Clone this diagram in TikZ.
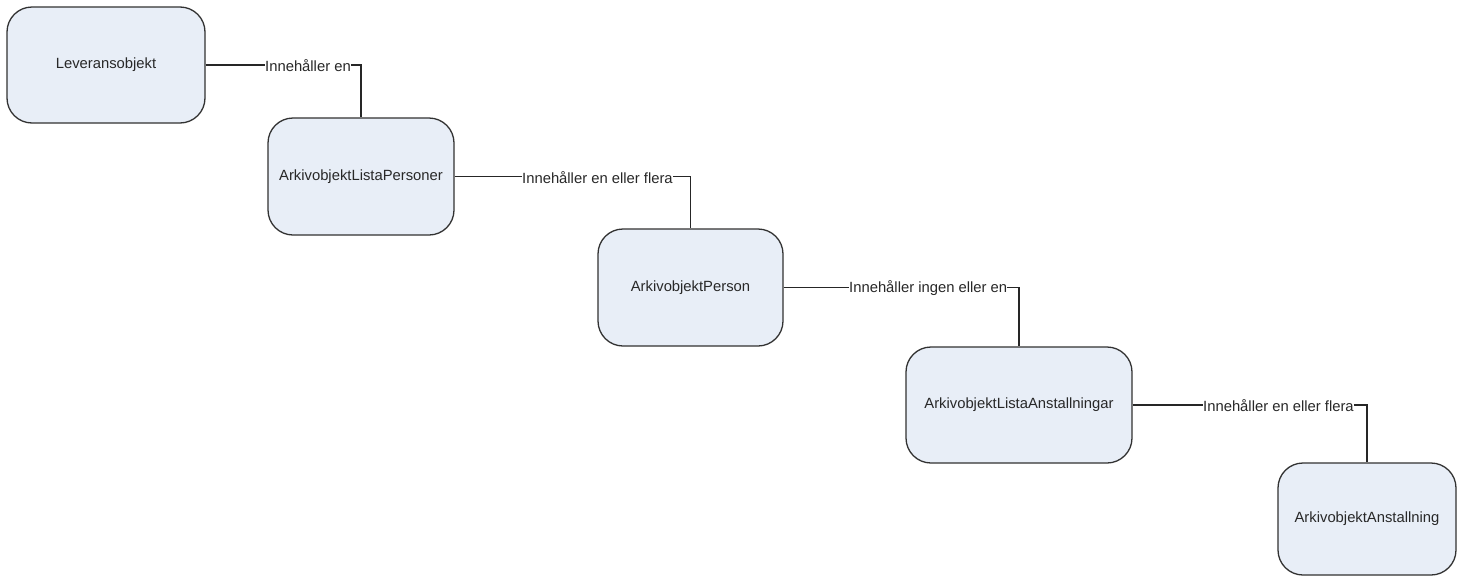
\documentclass[tikz,border=0pt]{standalone}
\usepackage{fontspec}
\setmainfont{Liberation Sans}
\definecolor{boxfill}{RGB}{232,238,247}
\definecolor{boxline}{RGB}{50,50,50}
\definecolor{labeltext}{RGB}{40,40,40}
\begin{document}
\begin{tikzpicture}[x=1pt,y=-1pt,
  entity/.style={draw=boxline, fill=boxfill, line width=1.3pt, rounded corners=25pt,
    inner sep=0pt, text=labeltext, font=\fontsize{14.8}{17}\selectfont},
  rel/.style={inner sep=0pt, anchor=west, text=labeltext, font=\fontsize{14.8}{17}\selectfont},
  link/.style={draw=black!85, line width=1.1pt}]
\useasboundingbox (0,0) rectangle (1457,576);
\fill[white] (0,0) rectangle (1457,576);

% entities
\node[entity, minimum width=198pt, minimum height=116pt] (lev) at (106,65) {Leveransobjekt};
\node[entity, minimum width=186pt, minimum height=117pt] (lpers) at (361,176.5) {ArkivobjektListaPersoner};
\node[entity, minimum width=185pt, minimum height=117pt] (pers) at (690.5,287.5) {ArkivobjektPerson};
\node[entity, minimum width=226pt, minimum height=116pt] (lanst) at (1019,405) {ArkivobjektListaAnstallningar};
\node[entity, minimum width=178pt, minimum height=112pt] (anst) at (1367,519) {ArkivobjektAnstallning};

% relation labels
\node[rel] (r1) at (265,66) {Innehåller en};
\node[rel] (r2) at (522,177.5) {Innehåller en eller flera};
\node[rel] (r3) at (849,288.5) {Innehåller ingen eller en};
\node[rel] (r4) at (1203,406) {Innehåller en eller flera};

% connectors
\draw[link] (lev.east) -- (lev.east -| r1.west);
\draw[link] (r1.east |- lev.east) -| (lpers.north);
\draw[link] (lpers.east) -- (lpers.east -| r2.west);
\draw[link] (r2.east |- lpers.east) -| (pers.north);
\draw[link] (pers.east) -- (pers.east -| r3.west);
\draw[link] (r3.east |- pers.east) -| (lanst.north);
\draw[link] (lanst.east) -- (lanst.east -| r4.west);
\draw[link] (r4.east |- lanst.east) -| (anst.north);
\end{tikzpicture}
\end{document}
